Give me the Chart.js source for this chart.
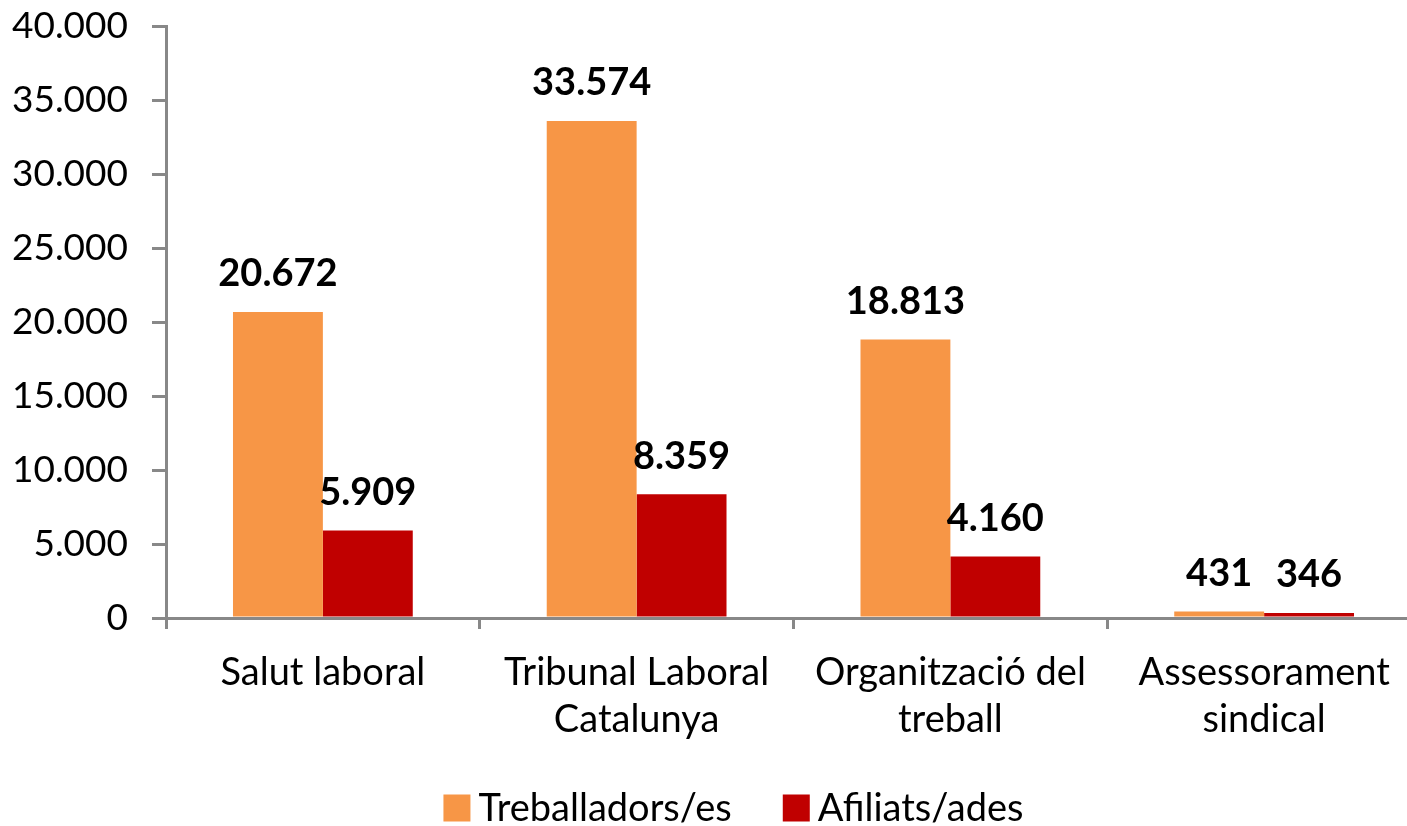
<!DOCTYPE html>
<html><head><meta charset="utf-8">
<script src="https://cdn.jsdelivr.net/npm/chart.js@4.4.1/dist/chart.umd.min.js"></script>
<style>html,body{margin:0;padding:0;background:#fff;overflow:hidden}</style>
</head><body>
<canvas id="c" width="1440" height="826" style="display:block"></canvas>
<script>
const categories = [["Salut laboral"], ["Tribunal Laboral", "Catalunya"], ["Organització del", "treball"], ["Assessorament", "sindical"]];
const seriesNames = ["Treballadors/es", "Afiliats/ades"];
const treballadors = [20672, 33574, 18813, 431];
const afiliats = [5909, 8359, 4160, 346];
const seriesColors = ["#F79646", "#C00000"];
const yMin = 0, yMax = 40000, yStep = 5000;

const FONT = "Lato";
const fmt = v => String(v).replace(/\B(?=(\d{3})+(?!\d))/g, ".");

const dataLabels = {
  id: "dataLabels",
  afterDatasetsDraw(chart) {
    const ctx = chart.ctx;
    ctx.save();
    ctx.font = "bold 38px " + FONT;
    ctx.fillStyle = "#000";
    ctx.textAlign = "center";
    ctx.textBaseline = "middle";
    chart.data.datasets.forEach((ds, i) => {
      chart.getDatasetMeta(i).data.forEach((el, j) => {
        ctx.fillText(fmt(ds.data[j]), el.x, el.y - 38);
      });
    });
    ctx.restore();
  }
};

const customLegend = {
  id: "customLegend",
  afterDraw(chart) {
    const ctx = chart.ctx;
    ctx.save();
    ctx.font = "38px " + FONT;
    ctx.textBaseline = "middle";
    const box = 27, gapText = 8, gapItem = 51;
    const items = chart.data.datasets.map(ds => ({label: ds.label, color: ds.backgroundColor, w: ctx.measureText(ds.label).width}));
    let total = 0;
    items.forEach((it, i) => { total += box + gapText + it.w + (i < items.length - 1 ? gapItem : 0); });
    const cy = 808;
    let x = 733.5 - total / 2;
    items.forEach(it => {
      ctx.fillStyle = it.color;
      ctx.fillRect(x, cy - box / 2, box, box);
      x += box + gapText;
      ctx.fillStyle = "#000";
      ctx.textAlign = "left";
      ctx.fillText(it.label, x, cy + 1);
      x += it.w + gapItem;
    });
    ctx.restore();
  }
};

new Chart(document.getElementById("c"), {
  type: "bar",
  data: {
    labels: categories,
    datasets: [
      {label: seriesNames[0], data: treballadors, backgroundColor: seriesColors[0], borderWidth: 0},
      {label: seriesNames[1], data: afiliats, backgroundColor: seriesColors[1], borderWidth: 0}
    ]
  },
  options: {
    responsive: false,
    animation: false,
    devicePixelRatio: 1,
    layout: {padding: {top: 26, right: 19, left: 0, bottom: 0}},
    datasets: {bar: {categoryPercentage: 0.573, barPercentage: 1.0}},
    plugins: {legend: {display: false}, tooltip: {enabled: false}},
    scales: {
      x: {
        offset: true,
        grid: {offset: true, drawOnChartArea: false, drawTicks: true, tickLength: 11, color: "#888", lineWidth: 3},
        border: {color: "#888", width: 3},
        ticks: {font: {family: FONT, size: 38, lineHeight: 1.237}, color: "#000", padding: 20, maxRotation: 0, autoSkip: false},
        afterFit(scale) { scale.height = 208; scale.paddingLeft = 0; scale.paddingRight = 0; }
      },
      y: {
        min: yMin, max: yMax,
        grid: {drawOnChartArea: false, drawTicks: true, tickLength: 14, color: "#888", lineWidth: 3},
        border: {color: "#888", width: 3},
        ticks: {stepSize: yStep, font: {family: FONT, size: 37}, color: "#000", padding: 24, callback: v => fmt(v)},
        afterFit(scale) { scale.width = 166; scale.paddingTop = 0; scale.paddingBottom = 0; }
      }
    }
  },
  plugins: [dataLabels, customLegend]
});
</script>
</body></html>
